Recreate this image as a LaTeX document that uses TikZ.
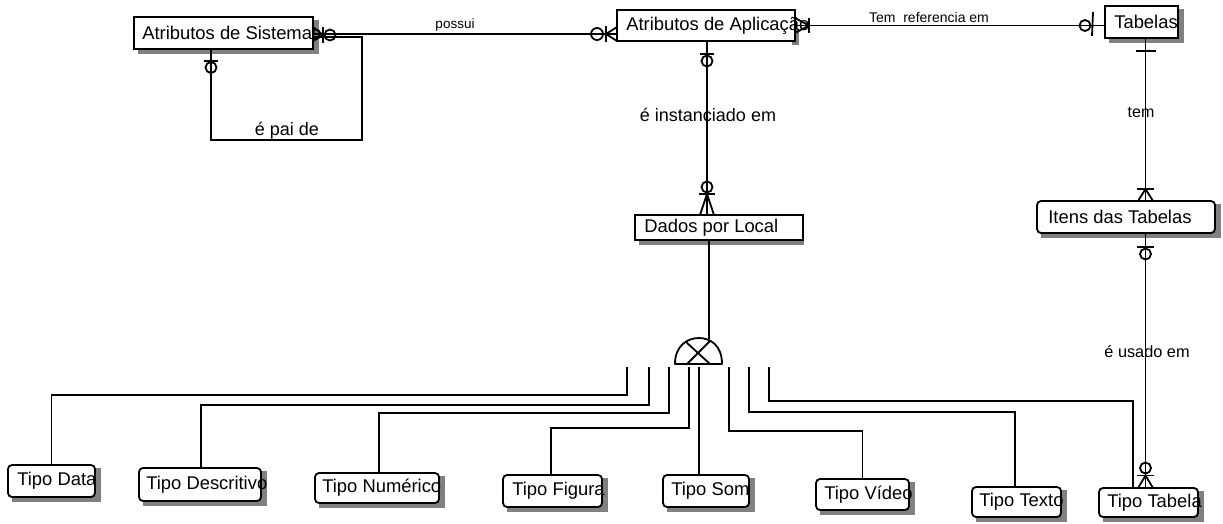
\documentclass[tikz,border=0pt]{standalone}
\usepackage{fontspec}
\setmainfont{Liberation Sans}
\usetikzlibrary{backgrounds}
\tikzset{
  box/.style={draw, fill=white, line width=1.8pt, inner sep=0pt},
  rbox/.style={box, rounded corners=4pt},
  txt/.style={anchor=west, inner sep=0pt, font=\fontsize{18.4}{20}\selectfont},
  lbl/.style={inner sep=0pt, font=\fontsize{18}{20}\selectfont},
  slbl/.style={inner sep=0pt, font=\fontsize{14}{16}\selectfont},
  conn/.style={line width=1.8pt},
  mk/.style={line width=1.8pt},
  shd/.style={fill=black!50},
}
\newcommand\ebox[7]{%
  \node[#1, minimum width=#4pt, minimum height=#5pt] (#2) at (#3) {};
  \node[txt] (#2t) at ([xshift=#6pt]#2.west) {#7};}
\newcommand\shadowfor[1]{%
  \begin{scope}[on background layer]
    \fill[shd] ([shift={(5pt,-4pt)}]#1.south west) rectangle ([shift={(5pt,-4pt)}]#1.north east);
  \end{scope}}
\begin{document}
\begin{tikzpicture}[x=1pt,y=-1pt]
\useasboundingbox (0,0) rectangle (1223,523);
% entities
\ebox{box}{sis}{223.5,33}{179}{32}{9}{Atributos de Sistemas}
\ebox{box}{apl}{706,25.5}{178}{31}{10}{Atributos de Aplicação}
\ebox{box}{tab}{1141.5,22}{73}{32}{10}{Tabelas}
\ebox{box}{dpl}{719,227.5}{168}{25}{10}{Dados por Local}
\ebox{rbox}{itn}{1126,217}{178}{32}{12}{Itens das Tabelas}
\ebox{rbox}{tdata}{51.5,481}{87}{32}{10}{Tipo Data}
\ebox{rbox}{tdesc}{200,484.5}{122}{33}{8}{Tipo Descritivo}
\ebox{rbox}{tnum}{377,488}{124}{30}{8}{Tipo Numérico}
\ebox{rbox}{tfig}{552.5,491}{99}{32}{10}{Tipo Figura}
\ebox{rbox}{tsom}{706,491}{86}{32}{9}{Tipo Som}
\ebox{rbox}{tvid}{862.5,494.5}{93}{31}{9}{Tipo Vídeo}
\ebox{rbox}{ttex}{1016.5,502}{89}{30}{8}{Tipo Texto}
\ebox{rbox}{ttab}{1148.5,502.5}{99}{29}{9}{Tipo Tabela}
\shadowfor{sis}\shadowfor{tab}\shadowfor{itn}
\shadowfor{tdata}\shadowfor{tdesc}\shadowfor{tnum}\shadowfor{tfig}
\shadowfor{tsom}\shadowfor{tvid}\shadowfor{ttex}\shadowfor{ttab}
\begin{scope}[on background layer]
  \fill[shd] ([shift={(5pt,-4pt)}]dpl.south west) rectangle (dpl.south east);
  \fill[shd] ([shift={(-4pt,-3pt)}]apl.south east) rectangle ([shift={(3pt,-4pt)}]apl.east);
\end{scope}

% possui
\draw[conn] ([yshift=-1pt]sis.east) -- ([yshift=-1pt]sis.east -| apl.west);
\node[slbl, font=\fontsize{13.5}{16}\selectfont] (lpossui) at (455,25) {possui};
\draw[mk] (313,27) -- (323,35) -- (313,41);
\draw[mk] (323,27) -- (323,43);
\draw[mk] (330,35) circle (5.5);
\draw[mk] (606,34) -- (617,27) (606,34) -- (617,41);
\draw[mk] (606,26) -- (606,42);
\draw[mk] (597,34) circle (6);

% e pai de
\draw[conn] ([yshift=-4pt]sis.east) -- (362,37) -- (362,140) -- (211,140) -- ([xshift=-12.5pt]sis.south);
\node[lbl] (lpai) at (287,131) {é pai de};
\draw[mk] (204,61) -- (218,61);
\draw[mk] (211,67.5) circle (5.5);

% tem referencia em
\draw[conn] (apl.east) -- (apl.east -| tab.west);
\node[slbl] (lref) at (929,17) {Tem\ \ referencia em};
\draw[mk] (795,18) -- (809,25.5) -- (795,33);
\draw[mk] (809,18) -- (809,33);
\draw[mk] (1093,12) -- (1092,36);
\draw[mk] (1085,25.5) circle (5.5);

% e instanciado em
\draw[conn] ([xshift=1pt]apl.south) -- ([xshift=1pt]apl.south |- dpl.north);
\node[lbl] (linst) at (708,115) {é instanciado em};
\draw[mk] (700,54) -- (714,54);
\draw[mk] (707,61) circle (5.5);
\draw[mk] (707,187) circle (5.5);
\draw[mk] (699,194) -- (715,194);
\draw[mk] (700,215) -- (707,194) -- (714,215);

% tem
\draw[conn] ([xshift=4pt]tab.south) -- ([xshift=4pt]tab.south |- itn.north);
\node[slbl, font=\fontsize{16}{18}\selectfont] (ltem) at (1141,112) {tem};
\draw[mk] (1136,51) -- (1156,51);
\draw[mk] (1137,189) -- (1154,189);
\draw[mk] (1138,201) -- (1145.5,189) -- (1153,201);

% e usado em
\draw[conn] ([xshift=19.5pt]itn.south) -- ([xshift=19.5pt]itn.south |- ttab.north);
\node[slbl, font=\fontsize{16.3}{18}\selectfont] (lusado) at (1147,352) {é usado em};
\draw[mk] (1137,247) -- (1154,247);
\draw[mk] (1145.5,254) circle (5.5);
\draw[mk] (1145.5,468) circle (5.5);
\draw[mk] (1137,475.5) -- (1154,475.5);
\draw[mk] (1138,488) -- (1145.5,475.5) -- (1153,488);

% subtype symbol
\coordinate (st) at (698.5,364);
\draw[mk, line join=round] (675,364) .. controls (675,345) and (688,338) .. (699,338) .. controls (710,338) and (722,345) .. (722,364) -- cycle;
\draw[mk] (686,342) -- (710,364) (710,341) -- (687,364);
\draw[conn] ([xshift=-10pt]dpl.south) -- (709,339);

\coordinate (b1) at (627,367);
\coordinate (b2) at (649,367);
\coordinate (b3) at (669,367);
\coordinate (b4) at (689,367);
\coordinate (b5) at (699,367);
\coordinate (b6) at (729,367);
\coordinate (b7) at (749,367);
\coordinate (b8) at (769,367);
\draw[conn] (b1) -- (627,395) -| (tdata.north);
\draw[conn] (b2) -- (649,405) -| ([xshift=1pt]tdesc.north);
\draw[conn] (b3) -- (669,413) -| ([xshift=2pt]tnum.north);
\draw[conn] (b4) -- (689,428) -| ([xshift=-1.5pt]tfig.north);
\draw[conn] (b5) -- ([xshift=-7pt]tsom.north);
\draw[conn] (b6) -- (729,431) -| (tvid.north);
\draw[conn] (b7) -- (749,412) -| ([xshift=-1.5pt]ttex.north);
\draw[conn] (b8) -- (769,401) -| ([xshift=-15.5pt]ttab.north);
\end{tikzpicture}
\end{document}
